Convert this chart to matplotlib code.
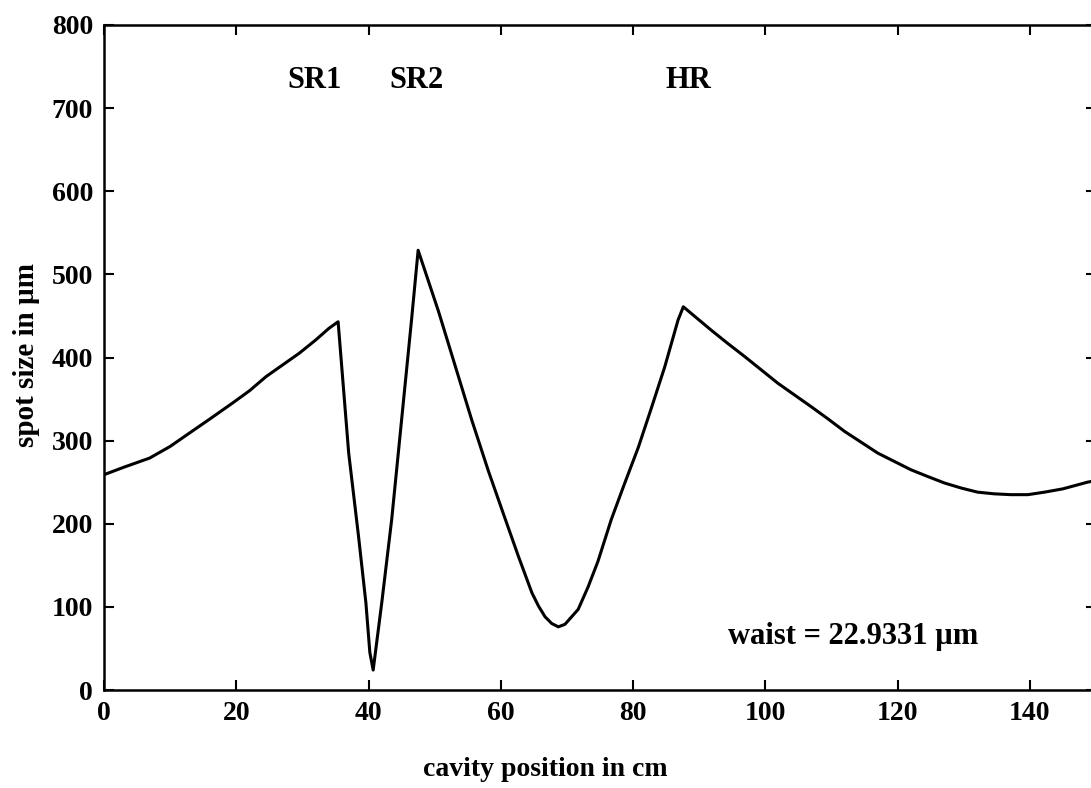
import matplotlib
matplotlib.use('Agg')
import matplotlib.pyplot as plt

# spot size along the cavity
pos_cm = [0, 3.0, 6.9, 10.0, 12.9, 16.0, 19.4, 22.0, 24.5, 27.0, 29.5, 32.0, 34.0, 35.4,
          37.0, 38.5, 39.6, 40.2, 40.7, 42.0, 43.5, 45.0, 46.5, 47.5,
          50.6, 53.1, 55.6, 58.1, 60.7, 62.7, 64.7, 65.7, 66.7, 67.7, 68.7, 69.7,
          70.7, 71.7, 73.2, 74.7, 76.7, 78.7, 80.8, 82.8, 84.8, 86.8, 87.6,
          89.7, 91.8, 94.3, 96.9, 99.4, 101.9, 104.4, 106.9, 109.5, 112.0, 114.5,
          117.0, 119.5, 122.0, 124.5, 127.1, 129.6, 132.1, 134.6, 137.1, 139.7,
          142.2, 145.0, 148.7, 150]
spot_um = [259, 268, 279, 293, 309, 326, 345, 360, 377, 391, 405, 421, 435, 443,
           285, 184, 105, 45, 24, 105, 205, 325, 445, 529,
           455, 390, 325, 264, 205, 160, 117, 101, 88, 80, 76, 79,
           88, 97, 124, 155, 205, 248, 292, 340, 389, 445, 461,
           447, 433, 417, 401, 385, 369, 355, 341, 326, 311, 298,
           285, 275, 265, 257, 249, 243, 238, 236, 235, 235,
           238, 242, 250, 252]

mirror_names = ['SR1', 'SR2', 'HR']
mirror_x = [31.9, 47.3, 88.3]
waist_text = 'waist = 22.9331 \u00b5m'

x_ticks = [0, 20, 40, 60, 80, 100, 120, 140]
y_ticks = [0, 100, 200, 300, 400, 500, 600, 700, 800]

plt.rcParams['font.family'] = ['Liberation Serif', 'DejaVu Serif']
plt.rcParams['font.weight'] = 'bold'

fig = plt.figure(figsize=(10.91, 7.88), dpi=100)
ax = fig.add_axes([104/1091, 98/788, 992/1091, 665/788])

ax.plot(pos_cm, spot_um, color='black', lw=2.2)

ax.set_xlim(0, 150)
ax.set_ylim(0, 800)
ax.set_xticks(x_ticks)
ax.set_yticks(y_ticks)
ax.tick_params(direction='in', length=7, width=1.5, top=True, right=True,
               labelsize=20, pad=8)
for lab in ax.get_xticklabels() + ax.get_yticklabels():
    lab.set_fontweight('bold')
for s in ax.spines.values():
    s.set_linewidth(1.8)

for name, xm in zip(mirror_names, mirror_x):
    ax.text(xm, 733, name, ha='center', va='center', fontsize=22, fontweight='bold')
ax.text(94.4, 64, waist_text, ha='left', va='center', fontsize=22, fontweight='bold')

fig.text(545/1091, 1 - 770/788, 'cavity position in cm', ha='center', va='center',
         fontsize=20, fontweight='bold')
fig.text(27/1091, 1 - 355/788, 'spot size in \u00b5m', ha='center', va='center',
         rotation=90, fontsize=21, fontweight='bold')

fig.savefig('out.png', dpi=100)
